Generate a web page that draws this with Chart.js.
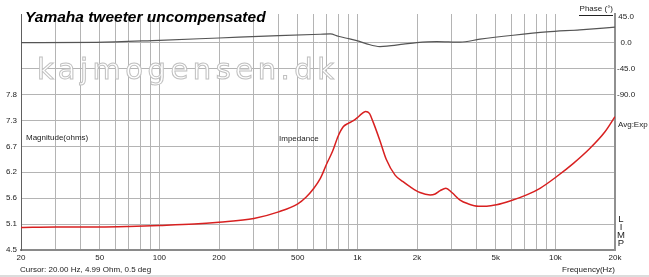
<!DOCTYPE html>
<html>
<head>
<meta charset="utf-8">
<script src="https://cdn.jsdelivr.net/npm/chart.js@4.4.1/dist/chart.umd.min.js"></script>
<style>
  html, body { margin: 0; padding: 0; background: #fff; }
  #wrap { width: 649px; height: 277px; position: relative; }
</style>
</head>
<body>
<div id="wrap"><canvas id="c" width="649" height="277"></canvas></div>
<script>
// impedance magnitude (ohms) vs frequency (Hz)
const impFreq = [20, 30, 50, 70, 100, 150, 200, 300, 400, 500, 550, 600, 650, 700, 750, 800, 850, 900, 950,
  1000, 1050, 1100, 1150, 1200, 1300, 1400, 1550, 1700, 1850, 2070, 2330, 2470, 2620, 2800, 3000, 3300,
  3630, 4080, 4500, 5050, 5900, 7160, 8360, 10160, 12330, 14960, 17800, 20000]
const impOhms = [4.98, 4.99, 4.99, 5.00, 5.02, 5.05, 5.09, 5.17, 5.31, 5.48, 5.62, 5.80, 6.02, 6.33, 6.60, 6.92, 7.12, 7.19, 7.24,
  7.31, 7.39, 7.44, 7.40, 7.22, 6.82, 6.42, 6.09, 5.95, 5.84, 5.72, 5.67, 5.69, 5.76, 5.81, 5.72, 5.56,
  5.48, 5.43, 5.43, 5.46, 5.54, 5.67, 5.81, 6.06, 6.34, 6.66, 7.01, 7.33]

// phase (degrees) vs frequency (Hz)
const phaseFreq = [20, 48, 100, 200, 400, 650, 730, 800, 884, 992, 1114, 1300, 1410, 1706, 1992, 2520, 3300, 4160, 6120, 9040, 13300, 20000]
const phaseDeg = [0.5, 1, 4.5, 8.5, 12.5, 15, 15.5, 11.5, 8.1, 4, -1.7, -6.4, -5.8, -2.3, 0.5, 2.3, 1.2, 6.4, 13.3, 19.1, 22.6, 27.3]

// axis ticks
const xGridTicks = [20, 30, 40, 50, 60, 70, 80, 90, 100, 200, 300, 400, 500, 600, 700, 800, 900,
  1000, 2000, 3000, 4000, 5000, 6000, 7000, 8000, 9000, 10000, 20000]
const xLabelFreqs = [20, 50, 100, 200, 500, 1000, 2000, 5000, 10000, 20000]
const xLabelTexts = ["20", "50", "100", "200", "500", "1k", "2k", "5k", "10k", "20k"]
const magTicks = [4.5, 5.05, 5.6, 6.15, 6.7, 7.25, 7.8, 8.35, 8.9]
const magTickLabels = ["4.5", "5.1", "5.6", "6.2", "6.7", "7.3", "7.8", "", ""]
const phaseTicks = [45, 0, -45, -90]

const FONT = "'Liberation Sans', Arial, sans-serif"
const GRID = "#b4b4b4"

const overlay = {
  id: "overlay",
  beforeDatasetsDraw(chart) {
    const ctx = chart.ctx
    ctx.save()
    // watermark
    ctx.font = `29px 'DejaVu Sans', sans-serif`
    ctx.letterSpacing = "4.5px"
    ctx.textBaseline = "alphabetic"
    ctx.textAlign = "left"
    ctx.fillStyle = "#ffffff"
    ctx.fillText("kajmogensen.dk", 37, 79)
    ctx.strokeStyle = "#c0c0c0"
    ctx.lineWidth = 1
    ctx.strokeText("kajmogensen.dk", 37, 79)
    ctx.restore()
  },
  afterDraw(chart) {
    const ctx = chart.ctx
    ctx.save()
    ctx.fillStyle = "#000"
    ctx.textBaseline = "middle"
    ctx.font = `bold italic 15.5px ${FONT}`
    ctx.textAlign = "left"
    ctx.fillText("Yamaha tweeter uncompensated", 25, 18)

    ctx.font = `8px ${FONT}`
    ctx.fillStyle = "#222"
    ctx.fillText("Magnitude(ohms)", 26, 138)
    ctx.fillText("Impedance", 279, 139)
    ctx.fillText("Cursor: 20.00 Hz, 4.99 Ohm, 0.5 deg", 20, 270)
    ctx.fillText("Avg:Exp", 618, 125)
    ctx.textAlign = "right"
    ctx.fillText("Frequency(Hz)", 615, 270)
    ctx.fillText("Phase (°)", 613, 9)
    ctx.fillRect(579, 15, 34, 1)

    ctx.textAlign = "center"
    ctx.font = `9.5px ${FONT}`
    const limp = ["L", "I", "M", "P"]
    limp.forEach((ch, i) => ctx.fillText(ch, 621, 219 + i * 8))

    ctx.fillStyle = "#dcdcdc"
    ctx.fillRect(0, 275, 649, 2)
    ctx.restore()
  }
}

new Chart(document.getElementById("c"), {
  type: "line",
  data: {
    datasets: [
      {
        label: "Impedance",
        data: impFreq.map((f, i) => ({ x: f, y: impOhms[i] })),
        borderColor: "#d82020",
        borderWidth: 1.5,
        pointRadius: 0,
        cubicInterpolationMode: "monotone",
        yAxisID: "y"
      },
      {
        label: "Phase",
        data: phaseFreq.map((f, i) => ({ x: f, y: phaseDeg[i] })),
        borderColor: "#555555",
        borderWidth: 1.2,
        pointRadius: 0,
        cubicInterpolationMode: "monotone",
        yAxisID: "y2"
      }
    ]
  },
  options: {
    responsive: false,
    animation: false,
    layout: { padding: { top: 14, left: 0, right: 0, bottom: 0 } },
    plugins: { legend: { display: false }, tooltip: { enabled: false } },
    scales: {
      x: {
        type: "logarithmic",
        min: 20,
        max: 20000,
        afterBuildTicks: (axis) => { axis.ticks = xGridTicks.map((v) => ({ value: v })) },
        afterFit: (axis) => { axis.height = 27 },
        grid: { color: GRID, drawTicks: false },
        border: { color: "#8a8a8a", width: 2 },
        ticks: {
          autoSkip: false,
          maxRotation: 0,
          padding: 3,
          color: "#222",
          font: { size: 8, family: FONT },
          callback: (v) => {
            const i = xLabelFreqs.indexOf(v)
            return i >= 0 ? xLabelTexts[i] : ""
          }
        }
      },
      y: {
        position: "left",
        min: 4.5,
        max: 9.51,
        afterBuildTicks: (axis) => { axis.ticks = magTicks.map((v) => ({ value: v })) },
        afterFit: (axis) => { axis.width = 21 },
        grid: { color: GRID, drawTicks: false },
        border: { color: "#606060", width: 1 },
        ticks: {
          padding: 4,
          color: "#222",
          font: { size: 8, family: FONT },
          callback: (v, i) => magTickLabels[i]
        }
      },
      y2: {
        position: "right",
        min: -360,
        max: 50.2,
        afterBuildTicks: (axis) => { axis.ticks = phaseTicks.map((v) => ({ value: v })) },
        afterFit: (axis) => { axis.width = 34 },
        grid: { display: false, drawTicks: false },
        border: { color: "#909090", width: 2 },
        ticks: {
          padding: 2,
          crossAlign: "center",
          color: "#222",
          font: { size: 8, family: FONT },
          callback: (v) => v.toFixed(1)
        }
      }
    }
  },
  plugins: [overlay]
})
</script>
</body>
</html>
